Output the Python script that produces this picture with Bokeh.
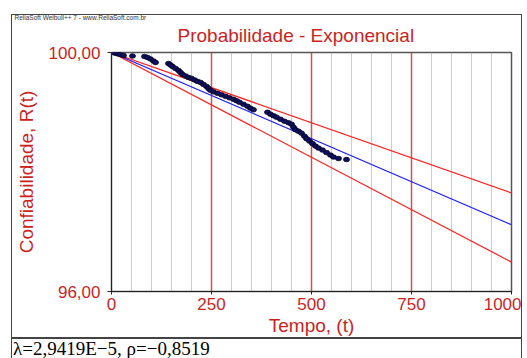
import math
from bokeh.plotting import figure
from bokeh.layouts import column
from bokeh.models import FixedTicker, Grid, Title, Div
from bokeh.embed import file_html
from bokeh.resources import INLINE

# failure-time data (t) and median-rank reliability (%)
tempo = [7.5, 12.5, 17.5, 22.5, 30, 52.5, 82.5, 90, 97.5, 105, 110,
         142.5, 147.5, 152.5, 160, 167.5, 172.5, 177.5, 185, 192.5, 200,
         207.5, 215, 222.5, 230, 237.5, 242.5, 247.5, 255, 265, 275, 285,
         295, 305, 312.5, 320, 330, 340, 347.5, 355, 390, 397.5, 405, 412.5,
         422.5, 432.5, 442.5, 450, 455, 460, 467.5, 475, 482.5, 487.5, 495,
         502.5, 510, 517.5, 527.5, 537.5, 547.5, 555, 567.5, 587.5]
confiab = [99.9915, 99.983, 99.9745, 99.966, 99.949, 99.9405, 99.932, 99.915,
           99.8895, 99.8555, 99.830, 99.813, 99.788, 99.762, 99.728, 99.694,
           99.660, 99.627, 99.601, 99.576, 99.559, 99.533, 99.508, 99.491,
           99.457, 99.423, 99.389, 99.356, 99.330, 99.305, 99.280, 99.254,
           99.229, 99.204, 99.179, 99.153, 99.119, 99.086, 99.052, 99.027,
           98.985, 98.951, 98.926, 98.901, 98.867, 98.833, 98.808, 98.783,
           98.732, 98.690, 98.665, 98.632, 98.581, 98.539, 98.498, 98.456,
           98.414, 98.380, 98.347, 98.305, 98.263, 98.230, 98.205, 98.188]

lam = 2.9419e-5
lam_sup = 2.40e-5     # upper confidence bound on R
lam_inf = 3.58e-5     # lower confidence bound on R
t_linha = [0, 1000]

x_ticks = [0, 250, 500, 750, 1000]
x_minor = [50, 100, 150, 200, 300, 350, 400, 450, 550, 600, 650, 700, 800, 850, 900, 950]
x_major_grid = [250, 500, 750]
y_ticks = [96, 100]
y_labels = {96: "96,00", 100: "100,00"}

RED = "#cc1f1f"
FONT = "Liberation Sans"

p = figure(width=509, height=323, margin=(15, 0, 0, 12),
           output_backend="svg", toolbar_location=None,
           x_range=(0, 1000), y_range=(96, 100), y_axis_type="log",
           min_border_left=99, min_border_right=10, min_border_top=37,
           min_border_bottom=46, background_fill_color="white",
           border_fill_color="white",
           styles={"outline": "1px solid #444444"})
p.outline_line_color = "#555555"
p.outline_line_width = 1.5

# titles: the first one (p.title) is outermost, added ones sit closer to the frame
p.title.text = "ReliaSoft Weibull++ 7 - www.ReliaSoft.com.br"
p.title.text_color = "#333333"
p.title.text_font = FONT
p.title.text_font_size = "6.5px"
p.title.text_font_style = "normal"
p.title.align = "left"
p.title.offset = -97
p.title.standoff = -9
p.add_layout(Title(text="Probabilidade - Exponencial", align="left", offset=66,
                   text_font=FONT, text_font_size="19px", text_font_style="normal",
                   text_color=RED, standoff=13), "above")

# grids
p.ygrid.visible = False
p.xgrid.ticker = FixedTicker(ticks=x_minor)
p.xgrid.grid_line_color = "#5fe35f"
p.xgrid.grid_line_alpha = 0.6
p.xgrid.grid_line_width = 1
p.add_layout(Grid(dimension=0, ticker=FixedTicker(ticks=x_major_grid),
                  grid_line_color="#cc3333", grid_line_alpha=0.85, grid_line_width=1.5))

# axes
for ax in (p.xaxis, p.yaxis):
    ax.major_label_text_color = RED
    ax.major_label_text_font = FONT
    ax.major_label_text_font_size = "17px"
    ax.axis_label_text_color = RED
    ax.axis_label_text_font = FONT
    ax.axis_label_text_font_size = "19px"
    ax.axis_label_text_font_style = "normal"
    ax.axis_line_color = "#222222"
    ax.major_tick_line_color = "#222222"
    ax.minor_tick_line_color = None
    ax.major_tick_in = 0
p.xaxis.ticker = FixedTicker(ticks=x_ticks)
p.xaxis.major_tick_out = 3
p.xaxis.major_label_standoff = 3
p.xaxis.axis_label = "Tempo, (t)"
p.xaxis.axis_label_standoff = 2
p.yaxis.ticker = FixedTicker(ticks=y_ticks)
p.yaxis.major_label_overrides = y_labels
p.yaxis.major_tick_out = 4
p.yaxis.major_label_standoff = 7
p.yaxis.axis_label = "Confiabilidade, R(t)"
p.yaxis.axis_label_standoff = 9

# model lines
p.line(t_linha, [100 * math.exp(-lam_sup * t) for t in t_linha], line_color="#ff2020", line_width=1.2)
p.line(t_linha, [100 * math.exp(-lam_inf * t) for t in t_linha], line_color="#ff2020", line_width=1.2)
p.line(t_linha, [100 * math.exp(-lam * t) for t in t_linha], line_color="#2020ff", line_width=1.2)

# data points
p.ellipse(tempo, confiab, width=6, height=4.5, width_units="screen", height_units="screen",
          fill_color="#101060", line_color="#000020", line_width=0.8)

info = Div(text="λ=2,9419E−5, ρ=−0,8519", width=509, height=20, margin=(0, 0, 0, 12),
           styles={"outline": "1px solid #444444", "font-family": "Liberation Serif",
                   "font-size": "19px", "color": "black", "line-height": "21px",
                   "padding-left": "1px", "overflow": "hidden", "white-space": "nowrap"})

root = column(p, info, spacing=0)

open("out.html", "w").write(file_html(root, INLINE))
